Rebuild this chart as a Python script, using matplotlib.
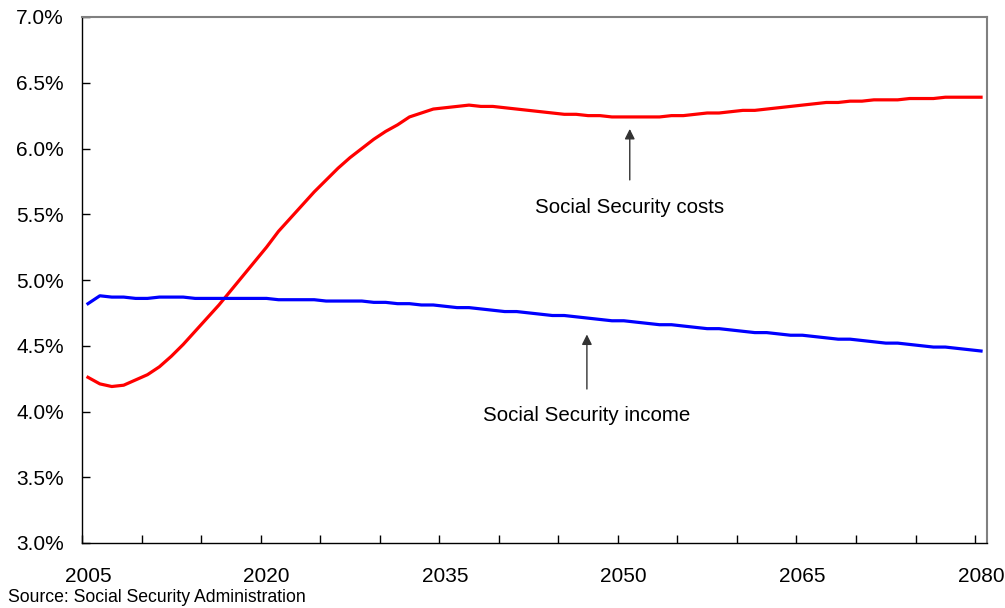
import numpy as np
import matplotlib.pyplot as plt

plt.rcParams['font.family'] = ['Liberation Sans', 'DejaVu Sans']

# Data: Social Security costs and income, % of GDP
years = np.arange(2005, 2081)

costs = [4.26, 4.21, 4.19, 4.20, 4.24, 4.28, 4.34, 4.42, 4.51, 4.61,
         4.71, 4.81, 4.92, 5.03, 5.14, 5.25, 5.37, 5.47, 5.57, 5.67,
         5.76, 5.85, 5.93, 6.00, 6.07, 6.13, 6.18, 6.24, 6.27, 6.30,
         6.31, 6.32, 6.33, 6.32, 6.32, 6.31, 6.30, 6.29, 6.28, 6.27,
         6.26, 6.26, 6.25, 6.25, 6.24, 6.24, 6.24, 6.24, 6.24, 6.25,
         6.25, 6.26, 6.27, 6.27, 6.28, 6.29, 6.29, 6.30, 6.31, 6.32,
         6.33, 6.34, 6.35, 6.35, 6.36, 6.36, 6.37, 6.37, 6.37, 6.38,
         6.38, 6.38, 6.39, 6.39, 6.39, 6.39]

income = [4.82, 4.88, 4.87, 4.87, 4.86, 4.86, 4.87, 4.87, 4.87, 4.86,
          4.86, 4.86, 4.86, 4.86, 4.86, 4.86, 4.85, 4.85, 4.85, 4.85,
          4.84, 4.84, 4.84, 4.84, 4.83, 4.83, 4.82, 4.82, 4.81, 4.81,
          4.80, 4.79, 4.79, 4.78, 4.77, 4.76, 4.76, 4.75, 4.74, 4.73,
          4.73, 4.72, 4.71, 4.70, 4.69, 4.69, 4.68, 4.67, 4.66, 4.66,
          4.65, 4.64, 4.63, 4.63, 4.62, 4.61, 4.60, 4.60, 4.59, 4.58,
          4.58, 4.57, 4.56, 4.55, 4.55, 4.54, 4.53, 4.52, 4.52, 4.51,
          4.50, 4.49, 4.49, 4.48, 4.47, 4.46]

label_years = [2005, 2020, 2035, 2050, 2065, 2080]
y_ticks = np.arange(3.0, 7.01, 0.5)

fig = plt.figure(figsize=(10.05, 6.08), dpi=100)
ax = fig.add_axes([82 / 1005, 1 - 543 / 608, (987 - 82) / 1005, (543 - 17) / 608])

ax.plot(years, costs, color='#ff0000', lw=2.3)
ax.plot(years, income, color='#0000ff', lw=2.3)

ax.set_xlim(2004.5, 2080.5)
ax.set_ylim(3.0, 7.0)

# labels sit on the categories, tick marks fall between them
ax.set_xticks(label_years)
ax.set_xticklabels([str(y) for y in label_years])
ax.set_xticks(np.arange(2004.5, 2080, 5), minor=True)
ax.tick_params(axis='x', which='major', length=0, pad=17, labelsize=15)
ax.tick_params(axis='x', which='minor', direction='in', length=6, width=1)

ax.set_yticks(y_ticks)
ax.set_yticklabels([f"{v:.1f}%" for v in y_ticks])
ax.tick_params(axis='y', direction='in', length=6, width=1, pad=13, labelsize=15)

for side in ['top', 'right']:
    ax.spines[side].set_color('#808080')
    ax.spines[side].set_linewidth(1.5)
for side in ['left', 'bottom']:
    ax.spines[side].set_color('black')
    ax.spines[side].set_linewidth(1.0)

# annotations
ax.annotate('', xy=(2050.5, 6.17), xytext=(2050.5, 5.74),
            arrowprops=dict(arrowstyle='-|>', color='#333333', lw=1, mutation_scale=15))
ax.text(2050.5, 5.555, 'Social Security costs', ha='center', va='center', fontsize=14.8)

ax.annotate('', xy=(2046.9, 4.607), xytext=(2046.9, 4.15),
            arrowprops=dict(arrowstyle='-|>', color='#333333', lw=1, mutation_scale=15))
ax.text(2046.9, 3.966, 'Social Security income', ha='center', va='center', fontsize=14.8)

fig.text(8 / 1005, 1 - 598 / 608, 'Source: Social Security Administration',
         ha='left', va='center', fontsize=12.7)

plt.savefig('out.png', dpi=100)
